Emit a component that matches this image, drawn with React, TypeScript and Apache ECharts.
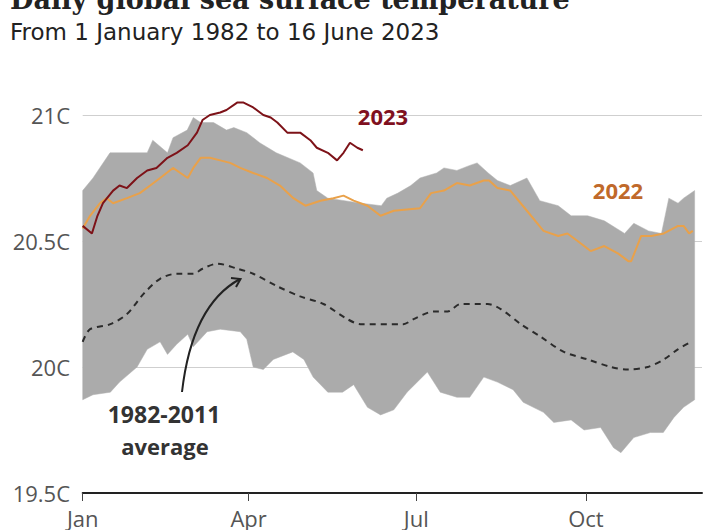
import React, { useEffect, useRef } from "react";
import * as echarts from "echarts";

// x values are days since 1 January
const monthTicks = [0, 90, 181, 273];
const monthLabels = ["Jan", "Apr", "Jul", "Oct"];

const upperEnvelope: [number, number][] = [
  [0, 20.7], [5.6, 20.75], [14.8, 20.85], [24, 20.85], [35, 20.85], [38, 20.9], [46, 20.85],
  [49, 20.91], [56.7, 20.94], [60, 20.99], [64, 20.97], [71, 20.97], [78, 20.94], [82, 20.95],
  [89, 20.93], [96, 20.89], [105, 20.85], [118, 20.81], [125, 20.77], [127, 20.7], [133, 20.67],
  [151, 20.65], [162, 20.64], [165, 20.67], [171, 20.69], [178, 20.72], [183, 20.75], [192, 20.77],
  [196, 20.79], [203, 20.78], [210, 20.8], [214, 20.81], [220, 20.77], [225, 20.74], [232, 20.72],
  [241, 20.75], [248, 20.66], [258, 20.64], [265, 20.6], [274, 20.6], [283, 20.58], [294, 20.53],
  [299, 20.57], [307, 20.54], [314, 20.53], [318, 20.67], [323, 20.65], [326, 20.67], [332, 20.7],
];

const lowerEnvelope: [number, number][] = [
  [0, 19.87], [5.6, 19.89], [15, 19.9], [20, 19.94], [29.5, 20.0], [35, 20.07], [42, 20.1],
  [46, 20.05], [51, 20.09], [57, 20.13], [60, 20.08], [67.5, 20.14], [74.6, 20.15], [85.5, 20.14],
  [89, 20.11], [92.5, 20.0], [98, 19.99], [103.4, 20.03], [114, 20.06], [120, 20.03], [125, 19.96],
  [133, 19.9], [141, 19.9], [147, 19.93], [154.5, 19.84], [161.6, 19.81], [168.8, 19.83],
  [176, 19.9], [187, 19.98], [194, 19.9], [203, 19.88], [210, 19.88], [217.6, 19.96], [225, 19.94],
  [233.5, 19.91], [239, 19.86], [250, 19.82], [255.6, 19.78], [265, 19.79], [272, 19.75],
  [281, 19.76], [288, 19.68], [292, 19.66], [299, 19.72], [308, 19.74], [315, 19.74],
  [320.8, 19.8], [326, 19.84], [332, 19.87],
];

const average19822011: [number, number][] = [
  [0, 20.1], [4, 20.15], [15, 20.17], [24, 20.21], [33, 20.29], [42, 20.35], [51, 20.37],
  [60, 20.37], [65, 20.39], [73, 20.41], [84, 20.39], [92.5, 20.37], [105.6, 20.32], [118, 20.28],
  [130.6, 20.25], [143.6, 20.19], [150.7, 20.17], [174, 20.17], [179.5, 20.19], [190.4, 20.22],
  [198, 20.22], [205, 20.25], [219.7, 20.25], [226.8, 20.23], [237.7, 20.17], [248.5, 20.12],
  [261, 20.06], [274, 20.03], [286.6, 20.0], [295.8, 19.99], [306.6, 20.0], [315.3, 20.03],
  [322.9, 20.07], [330, 20.1],
];

const year2022: [number, number][] = [
  [0, 20.55], [4, 20.6], [9.4, 20.65], [13, 20.67], [16.5, 20.65], [24, 20.67], [31, 20.69],
  [36.6, 20.72], [42, 20.75], [49, 20.79], [53, 20.77], [57, 20.75], [60, 20.79], [64, 20.83],
  [69, 20.83], [74.6, 20.82], [80, 20.81], [85.5, 20.79], [92.5, 20.77], [100, 20.75],
  [107, 20.72], [114.3, 20.67], [120.8, 20.64], [129, 20.66], [136, 20.67], [141.5, 20.68],
  [147, 20.66], [154.5, 20.64], [161.6, 20.6], [168.8, 20.62], [183, 20.63], [189, 20.69],
  [196, 20.7], [203, 20.73], [210, 20.72], [217.6, 20.74], [220.5, 20.74], [225, 20.71],
  [232, 20.7], [241, 20.62], [250, 20.54], [258, 20.52], [263, 20.53], [268.5, 20.5],
  [275.6, 20.46], [283, 20.48], [290.6, 20.45], [296, 20.42], [297.6, 20.42], [303, 20.52],
  [308.5, 20.52], [315.3, 20.53], [323, 20.56], [326, 20.56], [329, 20.53], [331, 20.54],
];

const year2023: [number, number][] = [
  [0, 20.56], [5, 20.53], [8, 20.6], [11, 20.65], [16.5, 20.7], [20, 20.72], [24, 20.71],
  [29.5, 20.75], [35, 20.78], [40, 20.79], [46, 20.83], [51, 20.85], [57, 20.88], [62, 20.93],
  [65, 20.98], [69, 21.0], [74.6, 21.01], [78, 21.02], [84, 21.05], [87, 21.05], [92.5, 21.03],
  [98, 21.0], [102, 20.99], [105.6, 20.97], [111, 20.93], [118, 20.93], [123.5, 20.9],
  [127, 20.87], [133, 20.85], [138, 20.82], [141.5, 20.85], [145, 20.89], [149, 20.87],
  [152, 20.86],
];

const SANS = '"Open Sans", "Noto Sans", sans-serif';

export default function App() {
  const ref = useRef<HTMLDivElement>(null);

  useEffect(() => {
    if (!ref.current) return;
    const chart = echarts.init(ref.current, null, { renderer: "svg" });

    const Y_MAX = 19.5 + 493 / 252;

    const option: any = {
      animation: false,
      backgroundColor: "#ffffff",
      grid: { left: 82.7, right: 18, top: 0, bottom: 37, containLabel: false },
      xAxis: {
        type: "value",
        min: 0,
        max: 336,
        splitLine: { show: false },
        axisLine: { show: true, onZero: false, lineStyle: { color: "#222", width: 2 } },
        axisTick: {
          show: true,
          customValues: monthTicks,
          length: 8,
          lineStyle: { color: "#444", width: 1 },
        },
        axisLabel: {
          customValues: monthTicks,
          formatter: (v: number) => monthLabels[monthTicks.indexOf(Math.round(v))] ?? "",
          margin: 14,
          fontSize: 22,
          fontFamily: SANS,
          color: "#555",
        },
      },
      yAxis: {
        type: "value",
        min: 19.5,
        max: Y_MAX,
        interval: 0.5,
        axisLine: { show: false },
        axisTick: { show: false },
        splitLine: {
          show: true,
          lineStyle: {
            color: ["#cfcfcf", "#cfcfcf", "#cfcfcf", "#cfcfcf", "rgba(0,0,0,0)"],
            width: 1,
          },
        },
        axisLabel: {
          formatter: (v: number) => (v > 21.2 ? "" : `${v}C`),
          margin: 12.7,
          fontSize: 22,
          fontFamily: SANS,
          color: "#555",
        },
      },
      series: [
        {
          type: "custom",
          name: "range",
          z: 2,
          silent: true,
          data: [[0, 20]],
          renderItem: (params: any, api: any) => {
            if (params.dataIndex !== 0) return null;
            const pts = [
              ...upperEnvelope.map((p) => api.coord(p)),
              ...lowerEnvelope.slice().reverse().map((p) => api.coord(p)),
            ];
            return {
              type: "polygon",
              shape: { points: pts },
              style: { fill: "#ababab", stroke: "#b0b0b0", lineWidth: 0.5 },
            };
          },
        },
        {
          type: "line",
          name: "1982-2011 average",
          z: 3,
          data: average19822011,
          showSymbol: false,
          smooth: 0.3,
          lineStyle: { color: "#2b2b2b", width: 2, type: [6, 5] },
        },
        {
          type: "line",
          name: "2022",
          z: 4,
          data: year2022,
          showSymbol: false,
          lineStyle: { color: "#e9a14a", width: 2 },
        },
        {
          type: "line",
          name: "2023",
          z: 5,
          data: year2023,
          showSymbol: false,
          lineStyle: { color: "#7d1218", width: 2 },
        },
      ],
      graphic: [
        {
          type: "text",
          x: 10,
          y: -1,
          style: {
            text: "Daily global sea surface temperature",
            font: 'bold 27px "DejaVu Serif", serif',
            fill: "#222",
            verticalAlign: "middle",
          },
        },
        {
          type: "text",
          x: 10,
          y: 32,
          style: {
            text: "From 1 January 1982 to 16 June 2023",
            font: '23px "DejaVu Sans", sans-serif',
            fill: "#222",
            verticalAlign: "middle",
          },
        },
        {
          type: "text",
          x: 383,
          y: 116,
          z: 10,
          style: {
            text: "2023",
            font: `bold 22px ${SANS}`,
            fill: "#7f1020",
            align: "center",
            verticalAlign: "middle",
          },
        },
        {
          type: "text",
          x: 618,
          y: 190,
          z: 10,
          style: {
            text: "2022",
            font: `bold 22px ${SANS}`,
            fill: "#c0692a",
            align: "center",
            verticalAlign: "middle",
          },
        },
        {
          type: "text",
          x: 164,
          y: 414,
          z: 10,
          style: {
            text: "1982-2011",
            font: `bold 23px ${SANS}`,
            fill: "#333",
            align: "center",
            verticalAlign: "middle",
          },
        },
        {
          type: "text",
          x: 165,
          y: 446,
          z: 10,
          style: {
            text: "average",
            font: `bold 22px ${SANS}`,
            fill: "#333",
            align: "center",
            verticalAlign: "middle",
          },
        },
        {
          type: "bezierCurve",
          z: 10,
          shape: { x1: 182, y1: 392, cpx1: 192, cpy1: 305, x2: 240, y2: 279 },
          style: { stroke: "#222", lineWidth: 2, fill: null },
        },
        {
          type: "polyline",
          z: 10,
          shape: { points: [[231, 278], [240.5, 279], [236, 287]] },
          style: { stroke: "#222", lineWidth: 2, fill: null },
        },
      ],
    };

    chart.setOption(option);
    return () => chart.dispose();
  }, []);

  return (
    <div
      ref={ref}
      style={{ position: "absolute", left: 0, top: 0, width: 720, height: 530 }}
    />
  );
}
